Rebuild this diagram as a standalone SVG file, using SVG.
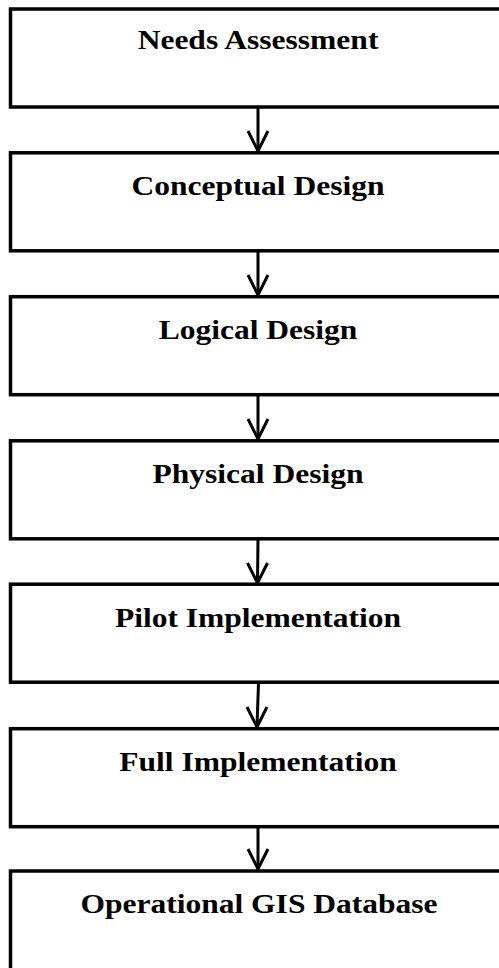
<svg xmlns="http://www.w3.org/2000/svg" width="499" height="968" viewBox="0 0 499 968">
  <style>
    .box { fill: #ffffff; stroke: #000000; stroke-width: 3.5; }
    .lbl { font-family: "Liberation Serif", "Times New Roman", serif; font-weight: bold; font-size: 26.5px; fill: #000000; text-anchor: middle; }
    .conn line { stroke: #000000; stroke-width: 3; }
    .conn polyline { fill: none; stroke: #000000; stroke-width: 3; stroke-linejoin: miter; }
  </style>
  <rect width="499" height="968" fill="#ffffff"/>

  <!-- process stages, boxes run past the right edge -->
  <g id="needs-assessment">
    <rect class="box" x="10.5" y="9" width="496" height="98"/>
    <text class="lbl" transform="translate(258,49) scale(1.19,1)">Needs Assessment</text>
  </g>
  <g id="conceptual-design">
    <rect class="box" x="10.5" y="152.8" width="496" height="98"/>
    <text class="lbl" transform="translate(258,195) scale(1.19,1)">Conceptual Design</text>
  </g>
  <g id="logical-design">
    <rect class="box" x="10.5" y="296.7" width="496" height="98"/>
    <text class="lbl" transform="translate(258,339) scale(1.19,1)">Logical Design</text>
  </g>
  <g id="physical-design">
    <rect class="box" x="10.5" y="440.8" width="496" height="98"/>
    <text class="lbl" transform="translate(258,483) scale(1.19,1)">Physical Design</text>
  </g>
  <g id="pilot-implementation">
    <rect class="box" x="10.5" y="584.2" width="496" height="98"/>
    <text class="lbl" transform="translate(258,626.5) scale(1.19,1)">Pilot Implementation</text>
  </g>
  <g id="full-implementation">
    <rect class="box" x="10.5" y="728.7" width="496" height="98"/>
    <text class="lbl" transform="translate(258,771) scale(1.19,1)">Full Implementation</text>
  </g>
  <g id="operational-gis-database">
    <rect class="box" x="10.5" y="871" width="496" height="100"/>
    <text class="lbl" transform="translate(259,913) scale(1.19,1)">Operational GIS Database</text>
  </g>

  <!-- connectors -->
  <g id="connectors" class="conn">
    <line x1="258" y1="107" x2="258" y2="151"/>
    <polyline points="248,131 258,151 268,131"/>
    <line x1="258" y1="251" x2="258" y2="295"/>
    <polyline points="248,275 258,295 268,275"/>
    <line x1="258" y1="395" x2="258" y2="439"/>
    <polyline points="248,419 258,439 268,419"/>
    <line x1="258" y1="539" x2="257.5" y2="583"/>
    <polyline points="247.5,563 257.5,583 267.5,563"/>
    <line x1="258.5" y1="683" x2="257" y2="727"/>
    <polyline points="247,707 257,727 267,707"/>
    <line x1="258" y1="827" x2="258" y2="869"/>
    <polyline points="248,849 258,869 268,849"/>
  </g>
</svg>
